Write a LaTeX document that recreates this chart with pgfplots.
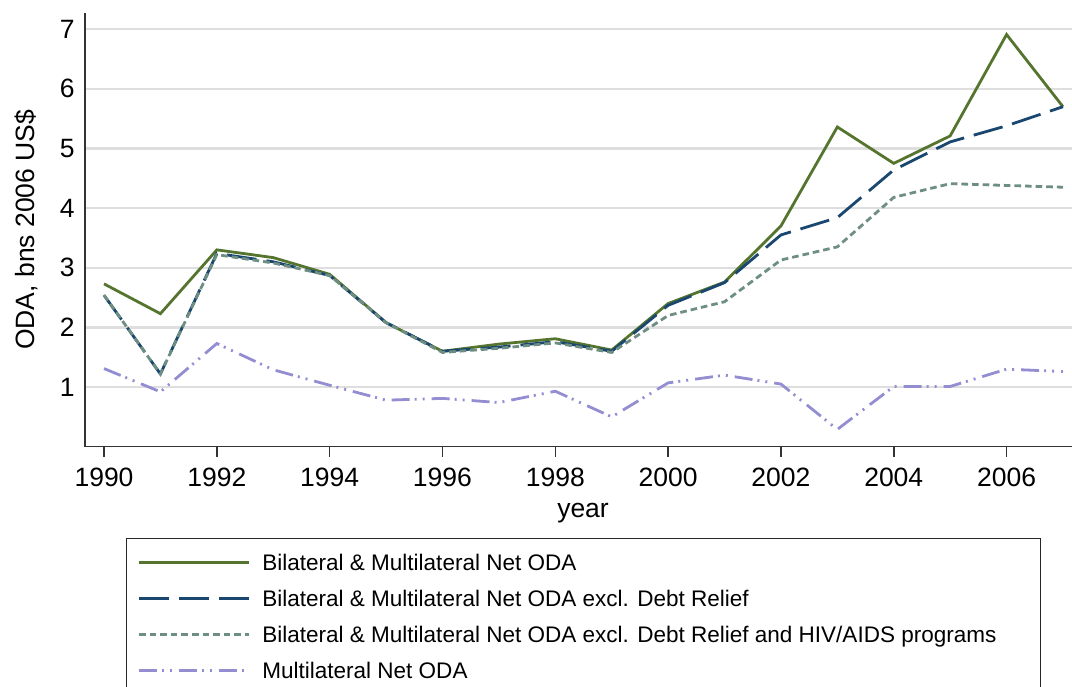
\documentclass[border=0pt]{standalone}
\usepackage{fontspec}
\setmainfont{Liberation Sans}
\usepackage{pgfplots}
\pgfplotsset{compat=1.18}
\definecolor{sgreen}{RGB}{85,117,47}
\definecolor{snavy}{RGB}{26,71,111}
\definecolor{steal}{RGB}{110,142,132}
\definecolor{slav}{RGB}{147,141,210}
\begin{document}
\begin{tikzpicture}
\begin{axis}[
  scale only axis, width=493.5bp, height=217bp,
  xmin=1989.663, xmax=2007.16, ymin=0, ymax=7.276,
  axis x line*=bottom, axis y line*=left,
  axis line style={line width=0.75bp, black!80},
  xtick={1990,1992,...,2006}, ytick={1,2,...,7},
  /pgf/number format/1000 sep={},
  /pgf/number format/assume math mode=true,
  tick align=outside, major tick length=5bp,
  xtick style={line width=0.75bp, black!80},
  ytick style={draw=none},
  ymajorgrids, grid style={black!13, line width=1.1bp},
  tick label style={font=\fontsize{13.3}{15}\selectfont},
  xticklabel style={anchor=base, inner sep=0pt, yshift=-15bp},
  yticklabel style={anchor=east, inner sep=0pt},
  label style={font=\fontsize{13.3}{15}\selectfont},
  xlabel={year}, ylabel={ODA, bns 2006 US\$},
  xlabel style={at={(axis description cs:0.5046,-0.153)}, anchor=center},
  ylabel style={at={(axis description cs:-0.0598,0.5)}, anchor=center},
  legend cell align=left,
  legend image code/.code={\draw[#1] (0bp,0bp) -- (55bp,0bp);},
  legend style={at={(axis description cs:0.0415,-0.2097)}, anchor=north west,
    draw=black!85, line width=0.6bp, inner xsep=5.5bp, inner ysep=8bp,
    row sep=10bp, column sep=6bp,
    nodes={inner sep=0pt, text height=8bp, text depth=0pt, font=\fontsize{11.3}{13}\selectfont}},
]
\addplot[sgreen, line width=1.4bp] coordinates {
(1990,2.73) (1991,2.23) (1992,3.30) (1993,3.17) (1994,2.89) (1995,2.08)
(1996,1.60) (1997,1.72) (1998,1.81) (1999,1.62) (2000,2.40) (2001,2.76)
(2002,3.70) (2003,5.36) (2004,4.75) (2005,5.21) (2006,6.91) (2007,5.70)};
\addlegendentry{\makebox[383.5bp][l]{Bilateral \& Multilateral Net ODA}}
\addplot[snavy, line width=1.4bp, dash pattern=on 15bp off 5bp] coordinates {
(1990,2.54) (1991,1.22) (1992,3.24) (1993,3.10) (1994,2.87) (1995,2.08)
(1996,1.60) (1997,1.67) (1998,1.76) (1999,1.60) (2000,2.37) (2001,2.75)
(2002,3.55) (2003,3.84) (2004,4.64) (2005,5.11) (2006,5.38) (2007,5.70)};
\addlegendentry{\makebox[383.5bp][l]{Bilateral \& Multilateral Net ODA excl. Debt Relief}}
\addplot[steal, line width=1.4bp, dash pattern=on 3.3bp off 2bp] coordinates {
(1990,2.54) (1991,1.22) (1992,3.22) (1993,3.08) (1994,2.87) (1995,2.08)
(1996,1.58) (1997,1.65) (1998,1.74) (1999,1.58) (2000,2.20) (2001,2.43)
(2002,3.13) (2003,3.35) (2004,4.18) (2005,4.41) (2006,4.38) (2007,4.35)};
\addlegendentry{\makebox[383.5bp][l]{Bilateral \& Multilateral Net ODA excl. Debt Relief and HIV/AIDS programs}}
\addplot[slav, line width=1.4bp, dash pattern=on 9bp off 2.5bp on 1bp off 3bp on 1bp off 3.5bp] coordinates {
(1990,1.31) (1991,0.92) (1992,1.73) (1993,1.29) (1994,1.03) (1995,0.78)
(1996,0.81) (1997,0.74) (1998,0.93) (1999,0.50) (2000,1.07) (2001,1.20)
(2002,1.05) (2003,0.29) (2004,1.01) (2005,1.01) (2006,1.30) (2007,1.26)};
\addlegendentry{\makebox[383.5bp][l]{Multilateral Net ODA}}
\end{axis}
\pgfresetboundingbox
\path[use as bounding box] (-42.5bp,-120.15bp) rectangle (493.5bp,223.35bp);
\end{tikzpicture}
\end{document}
